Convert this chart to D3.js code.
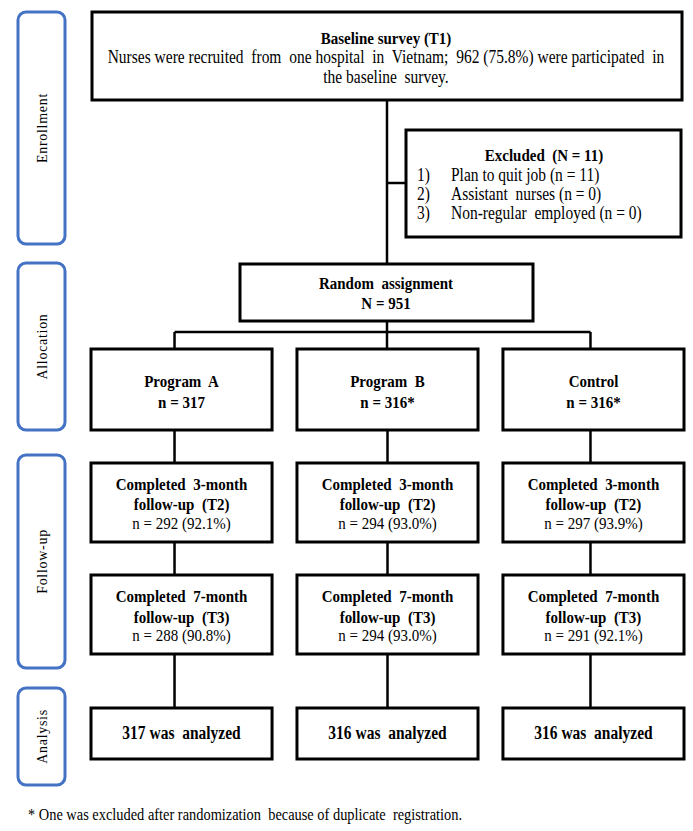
<!DOCTYPE html>
<html>
<head>
<meta charset="utf-8">
<script src="https://cdn.jsdelivr.net/npm/d3@7"></script>
<style>
  body { margin: 0; background: #fff; }
  text { font-family: "Liberation Serif", "Times New Roman", serif; white-space: pre; fill: #000; }
</style>
</head>
<body>
<svg id="chart" width="693" height="831"></svg>
<script>
// data ------------------------------------------------------------------
const stages = ['Enrollment', 'Allocation', 'Follow-up', 'Analysis']
const arms = ['Program  A', 'Program  B', 'Control']
const allocated = [317, 316, 316]
const allocNote = ['', '*', '*']
const t2Counts = [292, 294, 297]
const t2Pct = ['92.1', '93.0', '93.9']
const t3Counts = [288, 294, 291]
const t3Pct = ['90.8', '93.0', '92.1']
const analyzed = [317, 316, 316]
const baselineN = 962
const baselinePct = '75.8'
const randomizedN = 951
const exclusions = ['Plan to quit job', 'Assistant  nurses', 'Non-regular  employed']
const exclusionCounts = [11, 0, 0]
const footnote = '* One was excluded after randomization  because of duplicate  registration.'

// layout ----------------------------------------------------------------
const stageY = [[12, 244], [263, 430], [455, 668], [688, 785]]
const rowY = { alloc: [349, 430], t2: [463, 542], t3: [575, 654], analysis: [708, 759] }
const stemShift = [-7, 0, -3]
const BOX = 3
const LINE = 2.5
const SQUEEZE = 0.86 // the source figure's type is narrow and tall

const svg = d3.select('#chart')
svg.append('rect').attr('width', 693).attr('height', 831).attr('fill', '#fff')

const x = d3.scaleBand().domain(arms).range([91, 684]).paddingInner(0.121)

const lines = svg.append('g').attr('stroke', '#000').attr('stroke-width', LINE)
const boxes = svg.append('g')
const labels = svg.append('g')

function box (x0, y0, w, h) {
  boxes.append('rect')
    .attr('x', x0).attr('y', y0).attr('width', w).attr('height', h)
    .attr('fill', '#fff').attr('stroke', '#000').attr('stroke-width', BOX)
}

function textLines (cx, rows, anchor) {
  rows.forEach(r => {
    labels.append('text')
      .attr('transform', `translate(${cx},${r.y}) scale(${SQUEEZE},1)`)
      .attr('dy', '0.35em')
      .attr('text-anchor', anchor || 'middle')
      .attr('font-size', (r.size || 15) / SQUEEZE)
      .attr('font-weight', r.bold ? 'bold' : 'normal')
      .text(r.t)
  })
}

function vline (xx, y1, y2) {
  lines.append('line').attr('x1', xx).attr('x2', xx).attr('y1', y1).attr('y2', y2)
}

// stage side boxes
stages.forEach((s, i) => {
  const [y0, y1] = stageY[i]
  svg.append('rect')
    .attr('x', 18).attr('y', y0).attr('width', 47).attr('height', y1 - y0)
    .attr('rx', 8).attr('ry', 8)
    .attr('fill', 'none').attr('stroke', '#4472C4').attr('stroke-width', 3)
  svg.append('text')
    .attr('transform', `translate(42,${(y0 + y1) / 2}) rotate(-90)`)
    .attr('dy', '0.35em')
    .attr('text-anchor', 'middle')
    .attr('font-size', 14)
    .attr('letter-spacing', 0.7)
    .attr('fill', '#222')
    .text(s)
})

// enrollment
const midX = 387
vline(midX, 100, 264)
lines.append('line').attr('x1', midX).attr('x2', 406).attr('y1', 183).attr('y2', 183)

box(92, 12, 590, 88)
textLines(386, [
  { t: 'Baseline survey (T1)', y: 38, bold: true },
  { t: `Nurses were recruited  from  one hospital  in  Vietnam;  ${baselineN} (${baselinePct}%) were participated  in`, y: 57, size: 15.5 },
  { t: 'the baseline  survey.', y: 77, size: 15.5 }
])

box(406, 130, 275, 107)
textLines(544, [{ t: `Excluded  (N = ${d3.sum(exclusionCounts)})`, y: 155, bold: true }])
exclusions.forEach((e, i) => {
  const yy = 175 + i * 19
  textLines(417, [{ t: `${i + 1})`, y: yy, size: 15.5 }], 'start')
  textLines(451, [{ t: `${e} (n = ${exclusionCounts[i]})`, y: yy, size: 15.5 }], 'start')
})

// allocation
box(240, 264, 293, 57)
textLines(386, [
  { t: 'Random  assignment', y: 283, bold: true },
  { t: `N = ${randomizedN}`, y: 303, bold: true }
])

const stemX = arms.map((a, i) => x(a) + x.bandwidth() / 2 + stemShift[i])
vline(midX, 321, 349)
lines.append('line')
  .attr('x1', d3.min(stemX)).attr('x2', d3.max(stemX)).attr('y1', 332).attr('y2', 332)

arms.forEach((a, i) => {
  const x0 = x(a)
  const w = x.bandwidth()
  const cx = x0 + w / 2
  const sx = stemX[i]

  if (i !== 1) vline(sx, 332, rowY.alloc[0])
  vline(sx, rowY.alloc[1], rowY.t2[0])
  vline(sx, rowY.t2[1], rowY.t3[0])
  vline(sx, rowY.t3[1], rowY.analysis[0])

  box(x0, rowY.alloc[0], w, rowY.alloc[1] - rowY.alloc[0])
  textLines(cx, [
    { t: a, y: 381, bold: true },
    { t: `n = ${allocated[i]}${allocNote[i]}`, y: 402, bold: true }
  ])

  box(x0, rowY.t2[0], w, rowY.t2[1] - rowY.t2[0])
  textLines(cx, [
    { t: 'Completed  3-month', y: 484, bold: true },
    { t: 'follow-up  (T2)', y: 504, bold: true },
    { t: `n = ${t2Counts[i]} (${t2Pct[i]}%)`, y: 523 }
  ])

  box(x0, rowY.t3[0], w, rowY.t3[1] - rowY.t3[0])
  textLines(cx, [
    { t: 'Completed  7-month', y: 596, bold: true },
    { t: 'follow-up  (T3)', y: 617, bold: true },
    { t: `n = ${t3Counts[i]} (${t3Pct[i]}%)`, y: 635 }
  ])

  box(x0, rowY.analysis[0], w, rowY.analysis[1] - rowY.analysis[0])
  textLines(cx, [{ t: `${analyzed[i]} was  analyzed`, y: 733, bold: true, size: 15.5 }])
})

// footnote
textLines(28, [{ t: footnote, y: 814, size: 14.4 }], 'start')
</script>
</body>
</html>
